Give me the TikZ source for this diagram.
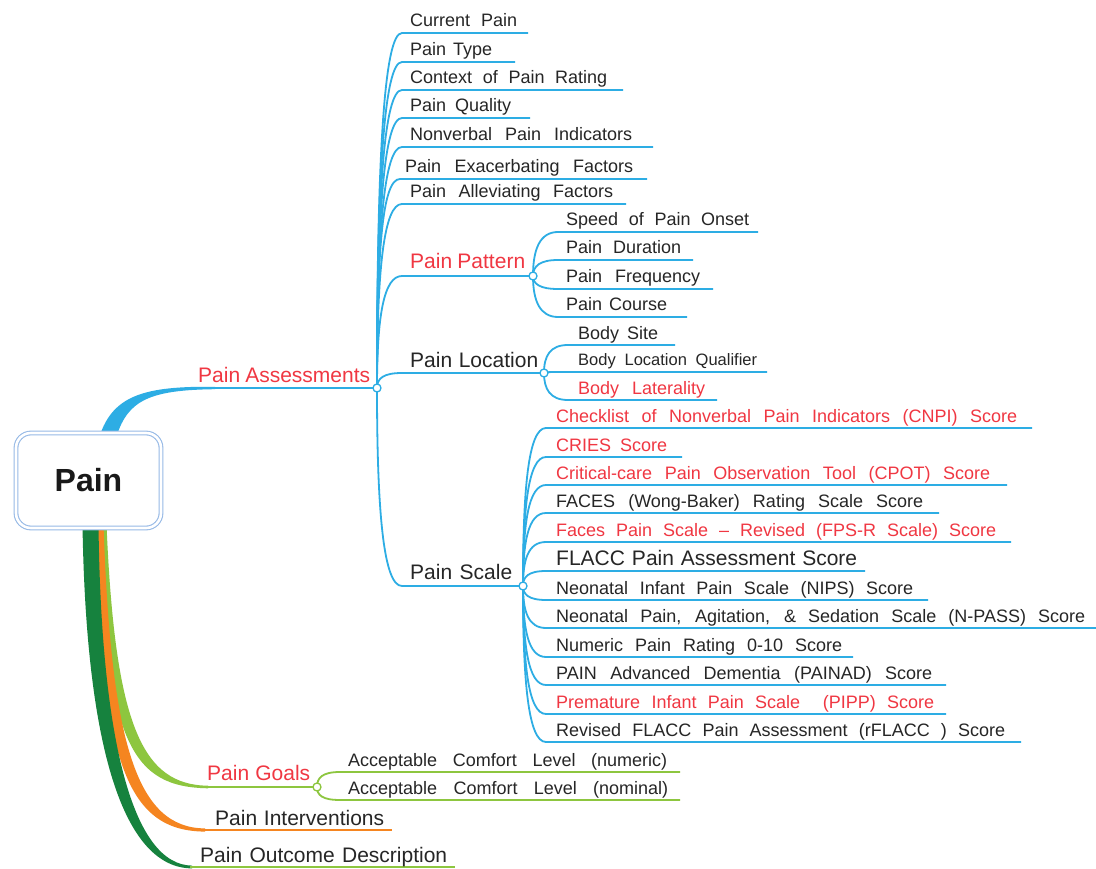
\documentclass[tikz,border=0pt]{standalone}
\usepackage{fontspec}
\setmainfont{Liberation Sans}
\usetikzlibrary{calc,backgrounds}
\definecolor{mmblue}{RGB}{45,173,228}
\definecolor{mmred}{RGB}{240,55,66}
\definecolor{mmtxt}{RGB}{38,38,38}
\definecolor{mmlgreen}{RGB}{141,198,63}
\definecolor{mmorange}{RGB}{245,133,32}
\definecolor{mmdgreen}{RGB}{22,130,62}
\definecolor{boxb}{RGB}{150,185,230}
\newcommand{\mmfit}[2]{\makebox[#1pt][s]{#2}}
\newcommand{\mmleaf}[7]{%
  \coordinate (#1-s) at (#4,#6);
  \coordinate (#1-e) at (#5,#6);
  \draw[#3] (#2) .. controls +(0,#7) and +(-18,0) .. (#1-s) -- (#1-e);}
\tikzset{
  sm/.style={inner sep=0pt, anchor=base west, text=mmtxt, font=\fontsize{18}{21}\selectfont},
  lg/.style={inner sep=0pt, anchor=base west, text=mmtxt, font=\fontsize{21}{24}\selectfont},
  rd/.style={text=mmred},
  bl/.style={draw=mmblue, line width=1.8pt},
  gl/.style={draw=mmlgreen, line width=1.8pt},
  ol/.style={draw=mmorange, line width=2.2pt},
  hubc/.style={circle, draw=#1, fill=white, line width=1.3pt, inner sep=0pt, minimum size=8pt},
  painbox/.style={draw=boxb, double=white, double distance=2.6pt, line width=1.1pt,
    rounded corners=15pt, fill=white, minimum width=145pt, minimum height=95pt,
    text=black!90, font=\fontsize{32}{36}\selectfont\bfseries},
}
\begin{document}
\begin{tikzpicture}[x=1pt,y=-1pt]
\useasboundingbox (0,0) rectangle (1096,869);
\node[painbox] (pain) at (88.5,480.5) {Pain};

\coordinate (hA) at (377,388);
\coordinate (hPat) at (533,276);
\coordinate (hLoc) at (544,373);
\coordinate (hScl) at (523,586);
\coordinate (hGo) at (317,787);
\coordinate (aTr) at (213,388);
\coordinate (goTr) at (206,787);
\coordinate (piS) at (203,830);
\coordinate (piE) at (392,830);
\coordinate (podS) at (190,867);
\coordinate (podE) at (455,867);

\begin{scope}[on background layer]
\fill[white] (0,0) rectangle (1096,869);
% blue trunk to Pain Assessments
\fill[mmblue] ($(pain.north)+(28,4)$) .. controls (128,400) and (150,390) .. (215,389.2)
  -- (215,386.8) .. controls (145,386) and (113,395) .. ($(pain.north)+(11,4)$) -- cycle;
% light green trunk to Pain Goals
\fill[mmlgreen] ($(pain.south)+(11,-4)$) .. controls (105,745) and (133,787) .. (208,788.3)
  -- (208,785.7) .. controls (142,785) and (115,725) .. ($(pain.south)+(18,-4)$) -- cycle;
% orange trunk to Pain Interventions
\fill[mmorange] ($(pain.south)+(8,-4)$) .. controls (100,765) and (128,831) .. (205,831.6)
  -- (205,828.4) .. controls (137,828) and (111,745) .. ($(pain.south)+(15,-4)$) -- cycle;
% dark green trunk to Pain Outcome Description
\fill[mmdgreen] ($(pain.south)+(-6,-4)$) .. controls (86,750) and (124,868) .. (192,868.4)
  -- (192,865.6) .. controls (134,865) and (101,745) .. ($(pain.south)+(10,-4)$) -- cycle;
\end{scope}

% ---- main blue branch lines
\draw[bl] (aTr) -- (hA);
\mmleaf{cur}{hA}{bl}{402}{528}{33}{-230}
\mmleaf{typ}{hA}{bl}{402}{515}{62}{-212}
\mmleaf{ctx}{hA}{bl}{402}{623}{90}{-194}
\mmleaf{qua}{hA}{bl}{402}{530}{118}{-175}
\mmleaf{nvi}{hA}{bl}{402}{653}{147}{-157}
\mmleaf{exa}{hA}{bl}{400}{647}{179}{-136}
\mmleaf{alv}{hA}{bl}{402}{626}{204}{-120}
\coordinate (pat-s) at (402,276);
\coordinate (loc-s) at (402,373);
\coordinate (scl-s) at (402,586);
\draw[bl] (hA) .. controls +(0,-73) and +(-18,0) .. (pat-s) -- (hPat);
\draw[bl] (hA) .. controls +(0,-10) and +(-18,0) .. (loc-s) -- (hLoc);
\draw[bl] (hA) .. controls +(0,128) and +(-18,0) .. (scl-s) -- (hScl);
% Pain Pattern
\mmleaf{spd}{hPat}{bl}{558}{758}{232}{-27}
\mmleaf{dur}{hPat}{bl}{558}{693}{260}{-10}
\mmleaf{frq}{hPat}{bl}{558}{713}{289}{8}
\mmleaf{crs}{hPat}{bl}{558}{687}{317}{25}
% Pain Location
\mmleaf{bst}{hLoc}{bl}{568}{675}{345}{-17}
\mmleaf{blq}{hLoc}{bl}{568}{767}{372}{-1}
\mmleaf{blt}{hLoc}{bl}{568}{717}{400}{16}
% Pain Scale
\mmleaf{s1}{hScl}{bl}{546}{1032}{428}{-95}
\mmleaf{s2}{hScl}{bl}{546}{682}{457}{-77}
\mmleaf{s3}{hScl}{bl}{546}{1007}{485}{-61}
\mmleaf{s4}{hScl}{bl}{546}{939}{513}{-44}
\mmleaf{s5}{hScl}{bl}{546}{1011}{542}{-26}
\mmleaf{s6}{hScl}{bl}{546}{865}{571}{-9}
\mmleaf{s7}{hScl}{bl}{546}{928}{600}{8}
\mmleaf{s8}{hScl}{bl}{546}{1096}{628}{25}
\mmleaf{s9}{hScl}{bl}{546}{853}{657}{43}
\mmleaf{s10}{hScl}{bl}{546}{946}{685}{59}
\mmleaf{s11}{hScl}{bl}{546}{946}{714}{77}
\mmleaf{s12}{hScl}{bl}{546}{1021}{742}{94}
% Pain Goals and the others
\draw[gl] (goTr) -- (hGo);
\mmleaf{g1}{hGo}{gl}{340}{680}{772}{-9}
\mmleaf{g2}{hGo}{gl}{340}{680}{800}{8}
\draw[ol] (piS) -- (piE);
\draw[gl] (podS) -- (podE);

% ---- hubs
\node[hubc=mmblue] (hAc) at (hA) {};
\node[hubc=mmblue] (hPatc) at (hPat) {};
\node[hubc=mmblue] (hLocc) at (hLoc) {};
\node[hubc=mmblue] (hSclc) at (hScl) {};
\node[hubc=mmlgreen] (hGoc) at (hGo) {};

% ---- texts
\node[lg,rd] (ass) at (198,382) {\mmfit{172}{Pain Assessments}};
\node[sm] (cur) at (410,27) {\mmfit{107}{Current Pain}};
\node[sm] (typ) at (410,56) {\mmfit{82}{Pain Type}};
\node[sm] (ctx) at (410,84) {\mmfit{197}{Context of Pain Rating}};
\node[sm] (qua) at (410,112) {\mmfit{101}{Pain Quality}};
\node[sm] (nvi) at (410,141) {\mmfit{222}{Nonverbal Pain Indicators}};
\node[sm] (exa) at (405,173) {\mmfit{228}{Pain Exacerbating Factors}};
\node[sm] (alv) at (410,198) {\mmfit{203}{Pain Alleviating Factors}};
\node[lg,rd] (pat) at (410,269) {\mmfit{115}{Pain Pattern}};
\node[lg] (loc) at (410,367) {\mmfit{128}{Pain Location}};
\node[lg] (scl) at (410,579) {\mmfit{102}{Pain Scale}};

\node[sm] (spd) at (566,226) {\mmfit{183}{Speed of Pain Onset}};
\node[sm] (dur) at (566,254) {\mmfit{115}{Pain Duration}};
\node[sm] (frq) at (566,283) {\mmfit{134}{Pain Frequency}};
\node[sm] (crs) at (566,311) {\mmfit{101}{Pain Course}};

\node[sm] (bst) at (578,339) {\mmfit{80}{Body Site}};
\node[sm,font=\fontsize{16.5}{19}\selectfont] (blq) at (578,366) {\mmfit{179}{Body Location Qualifier}};
\node[sm,rd] (blt) at (578,394) {\mmfit{127}{Body Laterality}};

\node[sm,rd] (t1) at (556,422) {\mmfit{461}{Checklist of Nonverbal Pain Indicators (CNPI) Score}};
\node[sm,rd] (t2) at (556,451) {\mmfit{111}{CRIES Score}};
\node[sm,rd] (t3) at (556,479) {\mmfit{434}{Critical-care Pain Observation Tool (CPOT) Score}};
\node[sm] (t4) at (556,507) {\mmfit{367}{FACES (Wong-Baker) Rating Scale Score}};
\node[sm,rd] (t5) at (556,536) {\mmfit{440}{Faces Pain Scale – Revised (FPS-R Scale) Score}};
\node[lg] (t6) at (556,565) {\mmfit{301}{FLACC Pain Assessment Score}};
\node[sm] (t7) at (556,594) {\mmfit{357}{Neonatal Infant Pain Scale (NIPS) Score}};
\node[sm] (t8) at (556,622) {\mmfit{529}{Neonatal Pain, Agitation, \& Sedation Scale (N-PASS) Score}};
\node[sm] (t9) at (556,651) {\mmfit{286}{Numeric Pain Rating 0-10 Score}};
\node[sm] (t10) at (556,679) {\mmfit{376}{PAIN Advanced Dementia (PAINAD) Score}};
\node[sm,rd] (t11) at (556,708) {\mmfit{378}{Premature Infant Pain Scale\ \ (PIPP) Score}};
\node[sm] (t12) at (556,736) {\mmfit{449}{Revised FLACC Pain Assessment (rFLACC ) Score}};

\node[lg,rd] (pgl) at (207,780) {\mmfit{103}{Pain Goals}};
\node[sm] (gt1) at (348,766) {\mmfit{319}{Acceptable Comfort Level (numeric)}};
\node[sm] (gt2) at (348,794) {\mmfit{320}{Acceptable Comfort Level (nominal)}};
\node[lg] (pin) at (215,825) {\mmfit{169}{Pain Interventions}};
\node[lg] (pod) at (200,862.5) {\mmfit{247}{Pain Outcome Description}};
\end{tikzpicture}
\end{document}
